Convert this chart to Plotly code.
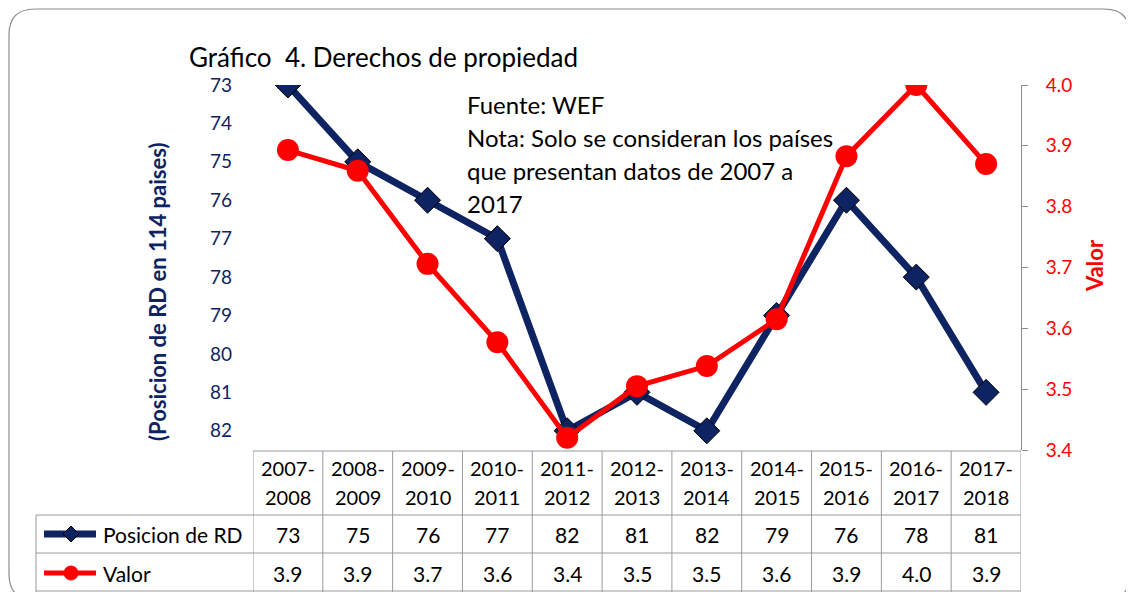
import plotly.graph_objects as go

# datos del grafico
periodos = ["2007-2008", "2008-2009", "2009-2010", "2010-2011", "2011-2012", "2012-2013",
            "2013-2014", "2014-2015", "2015-2016", "2016-2017", "2017-2018"]
posicion = [73, 75, 76, 77, 82, 81, 82, 79, 76, 78, 81]
valor = [3.893, 3.859, 3.706, 3.577, 3.42, 3.505, 3.538, 3.615, 3.883, 4.0, 3.87]
ticks_pos = list(range(73, 83))

# la pagina deja 8px de margen en el body
OFF = 8
W, H = 1134 - OFF, 592 - OFF
L, T = 253 - OFF, 85 - OFF
R, B = 1134 - 1021, 592 - 450
PW, PH = W - L - R, H - T - B

NAVY = "#0E2462"
RED = "#FF0000"
GRID = "#9A9A9A"
FONT = "Lato"


def px(x):
    # pixel de pantalla -> coordenada paper
    return (x - OFF - L) / PW


def py(y):
    return (H - B - (y - OFF)) / PH


x_idx = list(range(len(periodos)))

fig = go.Figure()
fig.add_trace(go.Scatter(
    x=x_idx, y=posicion, mode="lines+markers", name="Posicion de RD",
    line=dict(color=NAVY, width=7),
    marker=dict(symbol="diamond", size=20, color=NAVY, line=dict(color="black", width=1)),
    yaxis="y"))
fig.add_trace(go.Scatter(
    x=x_idx, y=valor, mode="lines+markers", name="Valor",
    line=dict(color=RED, width=5),
    marker=dict(symbol="circle", size=22, color=RED),
    yaxis="y2"))

shapes = []
# marco exterior redondeado
x0, y0, x1, y1, r = 9, 9, 1130, 600, 26
path = (f"M {px(x0 + r)},{py(y0)} L {px(x1 - r)},{py(y0)} "
        f"Q {px(x1)},{py(y0)} {px(x1)},{py(y0 + r)} L {px(x1)},{py(y1 - r)} "
        f"Q {px(x1)},{py(y1)} {px(x1 - r)},{py(y1)} L {px(x0 + r)},{py(y1)} "
        f"Q {px(x0)},{py(y1)} {px(x0)},{py(y1 - r)} L {px(x0)},{py(y0 + r)} "
        f"Q {px(x0)},{py(y0)} {px(x0 + r)},{py(y0)} Z")
shapes.append(dict(type="path", path=path, xref="paper", yref="paper",
                   line=dict(color="#8C8C8C", width=1.2)))

# tabla de datos
for yy, xl in [(451, 253), (515, 36), (553, 36), (591, 36)]:
    shapes.append(dict(type="line", xref="paper", yref="paper",
                       x0=px(xl), x1=px(1021), y0=py(yy), y1=py(yy),
                       line=dict(color=GRID, width=1)))
for i in range(len(periodos) + 1):
    shapes.append(dict(type="line", xref="x", yref="paper",
                       x0=i - 0.5, x1=i - 0.5, y0=py(451), y1=py(592),
                       line=dict(color=GRID, width=1)))
shapes.append(dict(type="line", xref="paper", yref="paper",
                   x0=px(36), x1=px(36), y0=py(515), y1=py(592),
                   line=dict(color=GRID, width=1)))

# muestras de leyenda
shapes.append(dict(type="line", xref="paper", yref="paper",
                   x0=px(44), x1=px(96), y0=py(534), y1=py(534),
                   line=dict(color=NAVY, width=7)))
d = 8
shapes.append(dict(type="path", xref="paper", yref="paper",
                   path=f"M {px(71)},{py(534 - d)} L {px(71 + d)},{py(534)} "
                        f"L {px(71)},{py(534 + d)} L {px(71 - d)},{py(534)} Z",
                   fillcolor=NAVY, line=dict(color="black", width=1)))
shapes.append(dict(type="line", xref="paper", yref="paper",
                   x0=px(44), x1=px(96), y0=py(573), y1=py(573),
                   line=dict(color=RED, width=5)))
shapes.append(dict(type="circle", xref="paper", yref="paper",
                   x0=px(64), x1=px(78), y0=py(566), y1=py(580),
                   fillcolor=RED, line=dict(color=RED, width=1)))


def texto(x, y, s, size, color="black", xref="paper", xanchor="center", angle=0):
    return dict(x=x, y=y, xref=xref, yref="paper", text=s, showarrow=False,
                xanchor=xanchor, yanchor="middle", textangle=angle,
                font=dict(family=FONT, size=size, color=color))


ann = []
for i in x_idx:
    a, b = periodos[i].split("-")
    ann.append(texto(i, py(468), a + "-", 20, xref="x"))
    ann.append(texto(i, py(497), b, 20, xref="x"))
    ann.append(texto(i, py(534), str(posicion[i]), 21, xref="x"))
    ann.append(texto(i, py(573), f"{valor[i]:.1f}", 21, xref="x"))
ann.append(texto(px(101), py(534), "Posicion de RD", 21, xanchor="left"))
ann.append(texto(px(101), py(573), "Valor", 21, xanchor="left"))

# titulos
ann.append(texto(px(187), py(57), "Gráfico  4. Derechos de propiedad", 26, xanchor="left"))
nota = ["Fuente: WEF", "Nota: Solo se consideran los países",
        "que presentan datos de 2007 a", "2017"]
for k, linea in enumerate(nota):
    ann.append(texto(px(465), py(104 + k * 33), linea, 24, xanchor="left"))
ann.append(texto(px(157), py(292), "<b>(Posicion de RD en 114 paises)</b>", 22,
                 color=NAVY, angle=-90))
ann.append(texto(px(1094), py(266), "<b>Valor</b>", 22, color=RED, angle=-90))

fig.update_layout(
    width=W, height=H,
    margin=dict(l=L, r=R, t=T, b=B, pad=0),
    paper_bgcolor="white", plot_bgcolor="white",
    showlegend=False,
    font=dict(family=FONT, size=18, color="black"),
    xaxis=dict(range=[-0.5, len(periodos) - 0.5], showticklabels=False,
               showgrid=False, zeroline=False, showline=False, ticks=""),
    yaxis=dict(range=[82.5, 73], tickvals=ticks_pos, showgrid=False, zeroline=False,
               showline=False, ticks="", ticklabelstandoff=20,
               tickfont=dict(family=FONT, size=19, color=NAVY)),
    yaxis2=dict(range=[3.4, 4.0], dtick=0.1, tickformat=".1f", overlaying="y", side="right",
                showgrid=False, zeroline=False, showline=True, linecolor="#8C8C8C",
                ticks="outside", ticklen=6, tickcolor="#8C8C8C", ticklabelstandoff=14,
                tickfont=dict(family=FONT, size=19, color=RED)),
    shapes=shapes, annotations=ann,
)

fig.write_html("out.html")
